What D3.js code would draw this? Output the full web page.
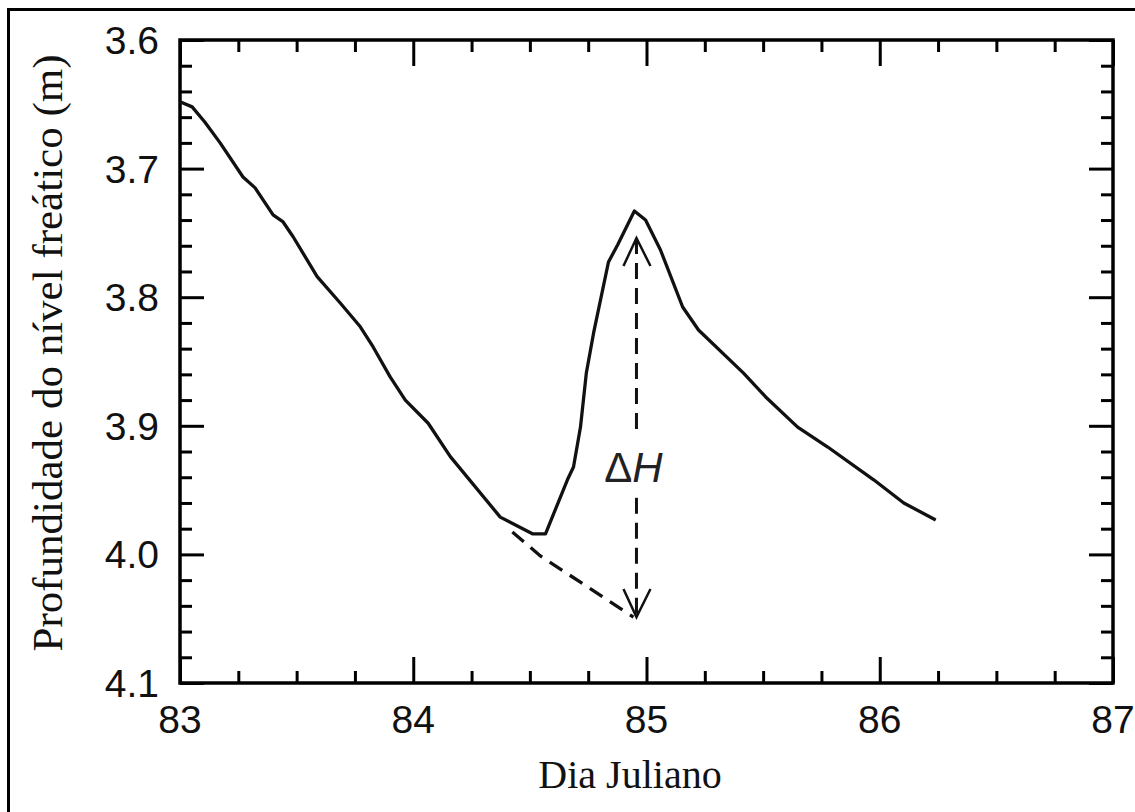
<!DOCTYPE html>
<html>
<head>
<meta charset="utf-8">
<script src="https://cdn.jsdelivr.net/npm/d3@7"></script>
<style>
  body { margin: 0; background: #fff; }
  svg { display: block; }
</style>
</head>
<body>
<script>
// water table depth (m) vs julian day
const day = [83.0, 83.052, 83.107, 83.172, 83.27, 83.322, 83.399, 83.442, 83.485, 83.588,
  83.687, 83.773, 83.828, 83.901, 83.966, 84.064, 84.159, 84.373, 84.511, 84.567,
  84.661, 84.687, 84.717, 84.742, 84.773, 84.837, 84.876, 84.948, 84.996, 85.06,
  85.155, 85.223, 85.416, 85.511, 85.648, 85.777, 85.974, 86.103, 86.24];
const depth = [3.648, 3.652, 3.664, 3.680, 3.7065, 3.715, 3.736, 3.7415, 3.753, 3.784,
  3.8045, 3.823, 3.8387, 3.862, 3.880, 3.898, 3.924, 3.971, 3.984, 3.984,
  3.942, 3.932, 3.901, 3.859, 3.828, 3.7726, 3.7594, 3.733, 3.740, 3.7633,
  3.8076, 3.8255, 3.859, 3.8776, 3.901, 3.9165, 3.942, 3.960, 3.9733];

// extrapolated recession (dashed)
const baseDay = [84.425, 84.545, 84.944];
const baseDepth = [3.9826, 4.0012, 4.0487];

// delta H arrow
const arrowDay = 84.957;
const arrowTop = 3.754, arrowBottom = 4.0487;
const gapTop = 3.907, gapBottom = 3.956;

const xMajor = [83, 84, 85, 86, 87];
const yMajor = [3.6, 3.7, 3.8, 3.9, 4.0, 4.1];

const W = 1135, H = 812;
const svg = d3.select("body").append("svg").attr("width", W).attr("height", H);

// outer frame (only top/left show in the original)
svg.append("rect")
  .attr("x", 8.5).attr("y", 9.5).attr("width", W + 20).attr("height", H + 20)
  .attr("fill", "none").attr("stroke", "#000").attr("stroke-width", 3);

const x = d3.scaleLinear().domain([83, 87]).range([180, 1113]);
const y = d3.scaleLinear().domain([3.6, 4.1]).range([40, 683]);

const xMinor = d3.range(83, 87.001, 0.25).filter(v => Math.abs(v - Math.round(v)) > 1e-6);
const yMinor = d3.range(3.6, 4.1001, 0.02).filter(v => Math.abs(v * 10 - Math.round(v * 10)) > 1e-6);

function ticks(axis, vals, size, tx, ty) {
  const g = svg.append("g").attr("transform", `translate(${tx},${ty})`)
    .call(axis.tickValues(vals).tickSize(size).tickFormat(""));
  g.select(".domain").remove();
  g.selectAll("line").attr("stroke", "#000").attr("stroke-width", 3);
  return g;
}

// inward ticks on all four sides
ticks(d3.axisBottom(x), xMajor, -26, 0, 683);
ticks(d3.axisBottom(x), xMinor, -12, 0, 683);
ticks(d3.axisTop(x), xMajor, -26, 0, 40);
ticks(d3.axisTop(x), xMinor, -12, 0, 40);
ticks(d3.axisLeft(y), yMajor, -24, 180, 0);
ticks(d3.axisLeft(y), yMinor, -12, 180, 0);
ticks(d3.axisRight(y), yMajor, -24, 1113, 0);
ticks(d3.axisRight(y), yMinor, -12, 1113, 0);

svg.append("rect")
  .attr("x", x(83)).attr("y", y(3.6))
  .attr("width", x(87) - x(83)).attr("height", y(4.1) - y(3.6))
  .attr("fill", "none").attr("stroke", "#000").attr("stroke-width", 3.5);

// tick labels
svg.append("g").selectAll("text").data(xMajor).join("text")
  .attr("x", d => x(d)).attr("y", 733)
  .attr("text-anchor", "middle")
  .attr("font-family", "Liberation Sans, Arial, sans-serif").attr("font-size", 39)
  .attr("fill", "#111")
  .text(d => d);

svg.append("g").selectAll("text").data(yMajor).join("text")
  .attr("x", 159).attr("y", d => y(d) + 14)
  .attr("text-anchor", "end")
  .attr("font-family", "Liberation Sans, Arial, sans-serif").attr("font-size", 39)
  .attr("fill", "#111")
  .text(d => d.toFixed(1));

// axis titles
svg.append("text")
  .attr("x", 630).attr("y", 788)
  .attr("text-anchor", "middle")
  .attr("font-family", "Liberation Serif, Times New Roman, serif").attr("font-size", 40)
  .attr("fill", "#111")
  .text("Dia Juliano");

svg.append("text")
  .attr("transform", "translate(62,353) rotate(-90)")
  .attr("text-anchor", "middle")
  .attr("font-family", "Liberation Serif, Times New Roman, serif").attr("font-size", 43)
  .attr("fill", "#111")
  .text("Profundidade do nível freático (m)");

const line = d3.line().x(d => x(d[0])).y(d => y(d[1]));

// measured curve
svg.append("path")
  .datum(d3.zip(day, depth))
  .attr("d", line)
  .attr("fill", "none").attr("stroke", "#111").attr("stroke-width", 3.3)
  .attr("stroke-linejoin", "round");

// extrapolated recession
svg.append("path")
  .datum(d3.zip(baseDay, baseDepth))
  .attr("d", line)
  .attr("fill", "none").attr("stroke", "#111").attr("stroke-width", 3.3)
  .attr("stroke-dasharray", "15 9");

// delta H dashed arrow, broken around the label
const ax = x(arrowDay);
[[arrowTop, gapTop], [gapBottom, arrowBottom]].forEach(seg => {
  svg.append("line")
    .attr("x1", ax).attr("x2", ax)
    .attr("y1", y(seg[0])).attr("y2", y(seg[1]))
    .attr("stroke", "#111").attr("stroke-width", 3)
    .attr("stroke-dasharray", "16 9");
});
// open arrow heads
[[arrowTop, 1], [arrowBottom, -1]].forEach(([v, dir]) => {
  const ty = y(v);
  svg.append("path")
    .attr("d", `M${ax - 13},${ty + dir * 28} L${ax},${ty} L${ax + 14},${ty + dir * 28}`)
    .attr("fill", "none").attr("stroke", "#111").attr("stroke-width", 2.5);
});

const lab = svg.append("text")
  .attr("x", ax - 3).attr("y", y(3.944))
  .attr("text-anchor", "middle")
  .attr("font-family", "Liberation Sans, Arial, sans-serif").attr("font-size", 42)
  .attr("fill", "#222");
lab.append("tspan").text("Δ");
lab.append("tspan").attr("font-style", "italic").text("H");
</script>
</body>
</html>
